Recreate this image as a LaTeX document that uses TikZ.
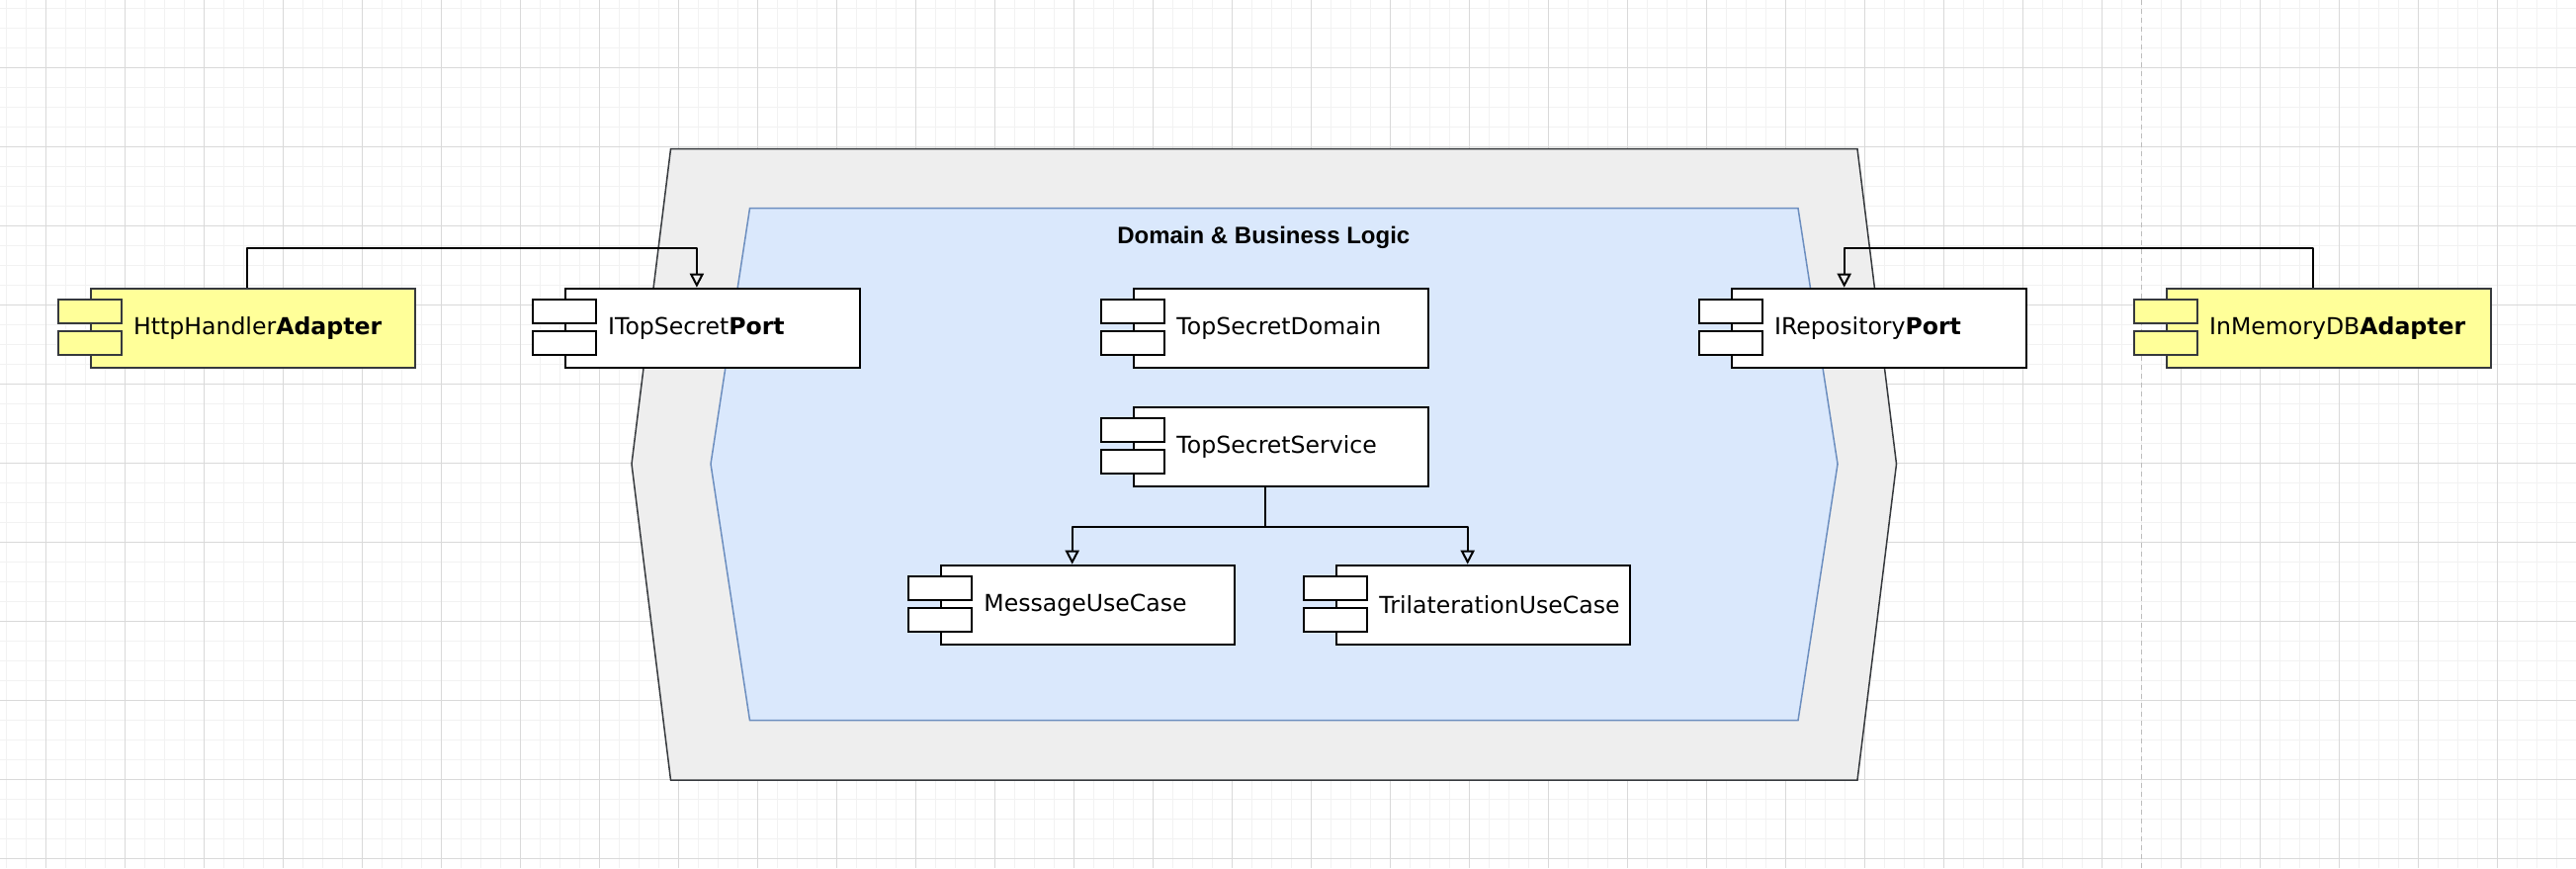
\documentclass[tikz,border=0pt]{standalone}
\usepackage{fontspec}
\setmainfont{DejaVu Sans}
\newfontfamily\titlefont{Liberation Sans}
\usetikzlibrary{arrows.meta,calc}
\definecolor{gridminor}{HTML}{F2F2F2}
\definecolor{gridmajor}{HTML}{D9D9D9}
\definecolor{dashgray}{HTML}{BDBDBD}
\definecolor{hexfill}{HTML}{EEEEEE}
\definecolor{hexdraw}{HTML}{36393D}
\definecolor{innerfill}{HTML}{DAE8FC}
\definecolor{innerdraw}{HTML}{6C8EBF}
\definecolor{adapterfill}{HTML}{FFFF99}
\definecolor{adapterdraw}{HTML}{36393D}
\tikzset{
  minorline/.style={gridminor, line width=0.5pt},
  majorline/.style={gridmajor, line width=0.5pt},
  compbox/.style={draw, line width=1pt, rectangle, minimum height=40pt, inner sep=0pt, anchor=north west},
  portbox/.style={compbox, fill=white, draw=black},
  adapterbox/.style={compbox, fill=adapterfill, draw=adapterdraw},
  complabel/.style={anchor=west, inner sep=0pt, font=\fontsize{11.8pt}{14pt}\selectfont},
  conn/.style={draw=black, line width=1.1pt, line join=round, -{Triangle[open,length=7pt,width=7pt,line width=1pt]}},
}
\newcommand\mkcomp[6]{% name, left px, top px, width pt, style, label
  \node[#5, minimum width=#4] (#1) at (#2,#3) {};
  \draw[#5, minimum width=0pt, minimum height=0pt] ([xshift=-16pt,yshift=-6pt]#1.north west) rectangle ++(32pt,-12pt);
  \draw[#5, minimum width=0pt, minimum height=0pt] ([xshift=-16pt,yshift=-22pt]#1.north west) rectangle ++(32pt,-12pt);
  \node[complabel] (#1-t) at ([xshift=22pt]#1.west) {#6};
}
\begin{document}
\begin{tikzpicture}[x=0.5pt,y=-0.5pt]
\useasboundingbox (0,0) rectangle (2606,878);
\fill[white] (0,0) rectangle (2606,878);
% grid
\foreach \x in {6,26,...,2606} \draw[minorline] (\x,0) -- (\x,878);
\foreach \y in {8.3,28.3,...,878} \draw[minorline] (0,\y) -- (2606,\y);
\foreach \x in {46,126,...,2606} \draw[majorline] (\x,0) -- (\x,878);
\foreach \y in {68.3,148.3,...,878} \draw[majorline] (0,\y) -- (2606,\y);
% dashed separator
\draw[dashgray, line width=0.8pt, dash pattern=on 2.5pt off 2pt] (2166.5,0) -- (2166.5,878);
% hexagons
\draw[fill=hexfill, draw=hexdraw, line width=0.75pt]
  (678.5,150.7) -- (1879,150.7) -- (1918.5,469.3) -- (1879,789) -- (678.5,789) -- (639,469.3) -- cycle;
\draw[fill=innerfill, draw=innerdraw, line width=0.75pt]
  (758.5,210.7) -- (1819,210.7) -- (1859,469.3) -- (1819,728.7) -- (758.5,728.7) -- (719,469.3) -- cycle;
\node[font=\titlefont\bfseries\fontsize{12pt}{14pt}\selectfont, inner sep=0pt] (title) at (1278.3,240) {Domain \& Business Logic};
% components
\mkcomp{http}{90.7}{290.7}{164.2pt}{adapterbox}{HttpHandler\textbf{Adapter}}
\mkcomp{itop}{570.7}{290.7}{149.2pt}{portbox}{ITopSecret\textbf{Port}}
\mkcomp{domain}{1146}{290.7}{149pt}{portbox}{TopSecretDomain}
\mkcomp{service}{1146}{411}{149pt}{portbox}{TopSecretService}
\mkcomp{message}{951}{570.7}{148.7pt}{portbox}{MessageUseCase}
\mkcomp{trilat}{1351}{570.7}{148.7pt}{portbox}{TrilaterationUseCase}
\mkcomp{irepo}{1750.7}{290.7}{149.2pt}{portbox}{IRepository\textbf{Port}}
\mkcomp{inmem}{2190.7}{290.7}{164.2pt}{adapterbox}{InMemoryDB\textbf{Adapter}}
% connectors
\draw[conn] ([xshift=-3pt]http.north) -- ++(0,-40) -| ([xshift=-8pt]itop.north);
\draw[conn] ([xshift=-8pt]inmem.north) -- ++(0,-40) -| ([xshift=-17.6pt]irepo.north);
\draw[conn] ([xshift=-8pt]service.south) -- ++(0,40) -| ([xshift=-8pt]message.north);
\draw[conn] ([xshift=-8pt]service.south) -- ++(0,40) -| ([xshift=-8pt]trilat.north);
\end{tikzpicture}
\end{document}
